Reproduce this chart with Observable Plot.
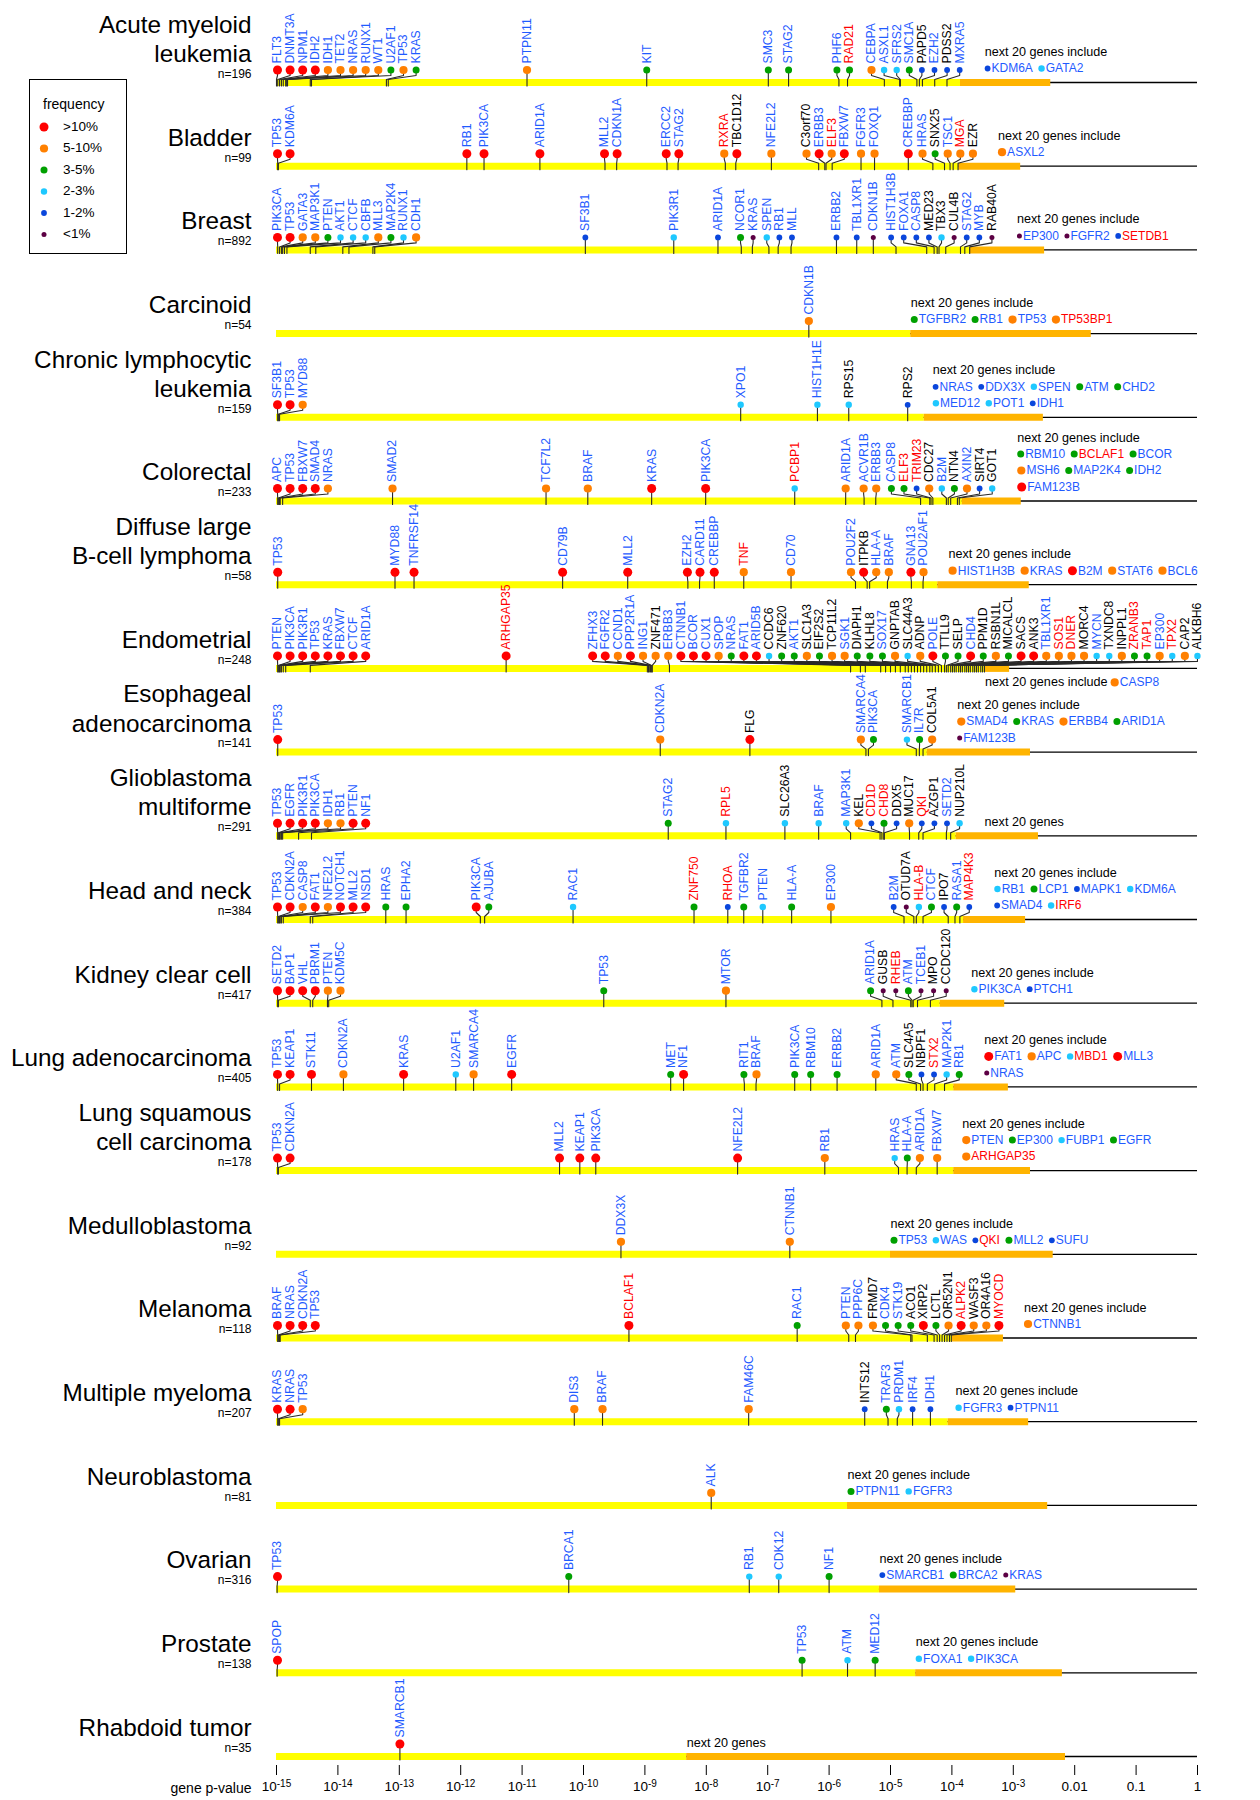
<!DOCTYPE html>
<html><head><meta charset="utf-8">
<script src="https://cdn.jsdelivr.net/npm/d3@7"></script>
<script src="https://cdn.jsdelivr.net/npm/@observablehq/plot@0.6"></script>
<style>
body{margin:0;background:#fff;font-family:'Liberation Sans',Arial,sans-serif}
#wrap{position:relative;width:1260px;height:1800px}
#legend{position:absolute;left:29px;top:79px;width:98px;height:175px;box-sizing:border-box;border:1px solid #000;background:#fff}
</style></head>
<body><div id="wrap"></div>
<script>
// ---------------- DATA ----------------
const cancerNames = ["Acute myeloid\nleukemia","Bladder","Breast","Carcinoid","Chronic lymphocytic\nleukemia","Colorectal","Diffuse large\nB-cell lymphoma","Endometrial","Esophageal\nadenocarcinoma","Glioblastoma\nmultiforme","Head and neck","Kidney clear cell","Lung adenocarcinoma","Lung squamous\ncell carcinoma","Medulloblastoma","Melanoma","Multiple myeloma","Neuroblastoma","Ovarian","Prostate","Rhabdoid tumor"];
const sampleSizes = [196,99,892,54,159,233,58,248,141,291,384,417,405,178,92,118,207,81,316,138,35];
// log10 p-value where the yellow (significant) band ends and where the orange band ends
const yellowEndLog10 = [-3.86,-3.89,-3.70,-4.67,-4.45,-3.83,-4.23,-3.46,-4.40,-3.93,-3.81,-4.19,-3.97,-3.97,-5.00,-3.99,-4.06,-5.70,-5.18,-4.59,-8.32];
const orangeEndLog10 = [-2.39,-2.88,-2.49,-1.73,-2.51,-2.87,-2.74,-3.06,-2.72,-2.59,-2.80,-3.14,-3.08,-2.72,-2.35,-3.16,-2.75,-2.44,-2.96,-2.20,-2.15];

// [cancer row, gene, log10 p-value, frequency class (1:>10% .. 6:<1%), label colour (b/r/k)]
const mutations = [
[0,"FLT3",-15.00,1,"b"],[0,"DNMT3A",-14.98,1,"b"],[0,"NPM1",-14.95,1,"b"],[0,"IDH2",-14.92,1,"b"],[0,"IDH1",-14.89,2,"b"],[0,"TET2",-14.85,2,"b"],[0,"NRAS",-14.84,2,"b"],[0,"RUNX1",-14.82,2,"b"],[0,"WT1",-14.45,2,"b"],[0,"U2AF1",-14.43,3,"b"],[0,"TP53",-13.21,2,"b"],[0,"KRAS",-13.18,3,"b"],[0,"PTPN11",-10.92,2,"b"],[0,"KIT",-8.97,3,"b"],[0,"SMC3",-6.99,3,"b"],[0,"STAG2",-6.66,3,"b"],[0,"PHF6",-5.84,3,"b"],[0,"RAD21",-5.70,3,"r"],[0,"CEBPA",-5.10,2,"b"],[0,"ASXL1",-4.85,4,"b"],[0,"SFRS2",-4.84,4,"b"],[0,"SMC1A",-4.57,3,"b"],[0,"PAPD5",-4.53,5,"k"],[0,"EZH2",-4.48,5,"b"],[0,"PDSS2",-4.28,5,"k"],[0,"MXRA5",-4.08,5,"b"],
[1,"TP53",-14.98,1,"b"],[1,"KDM6A",-14.97,1,"b"],[1,"RB1",-11.90,1,"b"],[1,"PIK3CA",-11.62,1,"b"],[1,"ARID1A",-10.71,1,"b"],[1,"MLL2",-9.65,1,"b"],[1,"CDKN1A",-9.46,1,"b"],[1,"ERCC2",-8.64,1,"b"],[1,"STAG2",-8.46,1,"b"],[1,"RXRA",-7.69,2,"r"],[1,"TBC1D12",-7.52,1,"k"],[1,"NFE2L2",-6.94,2,"b"],[1,"C3orf70",-6.17,2,"k"],[1,"ERBB3",-6.07,1,"b"],[1,"ELF3",-6.05,2,"r"],[1,"FBXW7",-5.95,1,"b"],[1,"FGFR3",-5.48,2,"b"],[1,"FOXQ1",-5.26,2,"b"],[1,"CREBBP",-4.71,1,"b"],[1,"HRAS",-4.31,2,"b"],[1,"SNX25",-4.12,3,"k"],[1,"TSC1",-4.03,2,"b"],[1,"MGA",-3.98,2,"r"],[1,"EZR",-3.90,2,"k"],
[2,"PIK3CA",-14.98,1,"b"],[2,"TP53",-14.95,1,"b"],[2,"GATA3",-14.92,2,"b"],[2,"MAP3K1",-14.90,2,"b"],[2,"PTEN",-14.87,3,"b"],[2,"AKT1",-14.83,4,"b"],[2,"CTCF",-14.45,4,"b"],[2,"CBFB",-14.36,4,"b"],[2,"MLL3",-13.92,2,"b"],[2,"MAP2K4",-13.82,3,"b"],[2,"RUNX1",-13.43,4,"b"],[2,"CDH1",-13.40,2,"b"],[2,"SF3B1",-9.97,5,"b"],[2,"PIK3R1",-8.53,4,"b"],[2,"ARID1A",-7.81,5,"b"],[2,"NCOR1",-7.43,3,"b"],[2,"KRAS",-7.25,6,"b"],[2,"SPEN",-6.98,4,"b"],[2,"RB1",-6.83,5,"b"],[2,"MLL",-6.62,5,"b"],[2,"ERBB2",-5.88,5,"b"],[2,"TBL1XR1",-5.55,5,"b"],[2,"CDKN1B",-5.28,6,"b"],[2,"HIST1H3B",-4.91,5,"b"],[2,"FOXA1",-4.41,5,"b"],[2,"CASP8",-4.29,5,"b"],[2,"MED23",-4.24,5,"k"],[2,"TBX3",-4.21,4,"k"],[2,"CUL4B",-4.10,6,"k"],[2,"STAG2",-3.86,5,"b"],[2,"MYB",-3.79,5,"b"],[2,"RAB40A",-3.71,6,"k"],
[3,"CDKN1B",-6.33,2,"b"],
[4,"SF3B1",-14.98,1,"b"],[4,"TP53",-14.97,1,"b"],[4,"MYD88",-14.95,2,"b"],[4,"XPO1",-7.44,4,"b"],[4,"HIST1H1E",-6.19,4,"b"],[4,"RPS15",-5.68,4,"k"],[4,"RPS2",-4.72,5,"k"],
[5,"APC",-14.98,1,"b"],[5,"TP53",-14.97,1,"b"],[5,"FBXW7",-14.95,1,"b"],[5,"SMAD4",-14.94,1,"b"],[5,"NRAS",-14.90,2,"b"],[5,"SMAD2",-13.11,2,"b"],[5,"TCF7L2",-10.61,2,"b"],[5,"BRAF",-9.93,2,"b"],[5,"KRAS",-8.89,1,"b"],[5,"PIK3CA",-8.01,1,"b"],[5,"PCBP1",-6.56,4,"r"],[5,"ARID1A",-5.73,2,"b"],[5,"ACVR1B",-5.43,2,"b"],[5,"ERBB3",-5.24,2,"b"],[5,"CASP8",-4.51,3,"b"],[5,"ELF3",-4.36,3,"r"],[5,"TRIM23",-4.34,5,"r"],[5,"CDC27",-4.31,2,"k"],[5,"B2M",-4.09,4,"b"],[5,"NTN4",-4.06,3,"k"],[5,"AXIN2",-4.02,2,"b"],[5,"SIRT4",-3.91,5,"k"],[5,"GOT1",-3.88,4,"k"],
[6,"TP53",-14.98,1,"b"],[6,"MYD88",-13.07,1,"b"],[6,"TNFRSF14",-12.76,1,"b"],[6,"CD79B",-10.34,1,"b"],[6,"MLL2",-9.28,1,"b"],[6,"EZH2",-8.30,1,"b"],[6,"CARD11",-8.11,1,"b"],[6,"CREBBP",-7.87,1,"b"],[6,"TNF",-7.39,2,"r"],[6,"CD70",-6.62,2,"b"],[6,"POU2F2",-5.57,2,"b"],[6,"ITPKB",-5.38,1,"k"],[6,"HLA-A",-5.34,2,"b"],[6,"BRAF",-5.05,2,"b"],[6,"GNA13",-4.66,1,"b"],[6,"POU2AF1",-4.47,2,"b"],
[7,"PTEN",-14.98,1,"b"],[7,"PIK3CA",-14.97,1,"b"],[7,"PIK3R1",-14.95,1,"b"],[7,"TP53",-14.94,1,"b"],[7,"KRAS",-14.92,1,"b"],[7,"FBXW7",-14.89,1,"b"],[7,"CTCF",-14.85,1,"b"],[7,"ARID1A",-14.45,1,"b"],[7,"ARHGAP35",-11.26,1,"r"],[7,"ZFHX3",-8.96,1,"b"],[7,"FGFR2",-8.94,1,"b"],[7,"CCND1",-8.93,2,"b"],[7,"PPP2R1A",-8.91,1,"b"],[7,"ING1",-8.89,2,"b"],[7,"ZNF471",-8.88,2,"k"],[7,"ERBB3",-8.60,2,"b"],[7,"CTNNB1",-5.65,1,"b"],[7,"BCOR",-5.49,1,"b"],[7,"CUX1",-5.41,1,"b"],[7,"SPOP",-5.16,2,"b"],[7,"NRAS",-5.08,3,"b"],[7,"FAT1",-5.00,1,"b"],[7,"ARID5B",-4.92,1,"b"],[7,"CCDC6",-4.84,4,"k"],[7,"ZNF620",-4.76,3,"k"],[7,"AKT1",-4.71,3,"b"],[7,"SLC1A3",-4.66,2,"k"],[7,"EIF2S2",-4.61,3,"k"],[7,"TCP11L2",-4.56,2,"k"],[7,"SGK1",-4.51,2,"b"],[7,"DIAPH1",-4.46,3,"k"],[7,"KLHL8",-4.41,3,"k"],[7,"SOX17",-4.36,3,"b"],[7,"GNPTAB",-4.32,2,"k"],[7,"SLC44A3",-4.27,4,"k"],[7,"ADNP",-4.22,2,"k"],[7,"POLE",-4.17,1,"b"],[7,"TTLL9",-4.12,3,"k"],[7,"SELP",-4.09,3,"k"],[7,"CHD4",-4.06,1,"b"],[7,"PPM1D",-4.02,3,"k"],[7,"RSBN1L",-3.99,2,"k"],[7,"MICALCL",-3.96,3,"k"],[7,"SACS",-3.93,1,"k"],[7,"ANK3",-3.89,1,"k"],[7,"TBL1XR1",-3.86,2,"b"],[7,"SOS1",-3.83,2,"r"],[7,"DNER",-3.79,2,"r"],[7,"MORC4",-3.76,2,"k"],[7,"MYCN",-3.73,4,"b"],[7,"TXNDC8",-3.70,4,"k"],[7,"INPPL1",-3.66,2,"k"],[7,"ZRANB3",-3.63,3,"r"],[7,"TAP1",-3.60,3,"r"],[7,"EP300",-3.57,2,"b"],[7,"TPX2",-3.53,4,"r"],[7,"CAP2",-3.50,2,"k"],[7,"ALKBH6",-3.47,4,"k"],
[8,"TP53",-14.98,1,"b"],[8,"CDKN2A",-8.75,2,"b"],[8,"FLG",-7.29,1,"k"],[8,"SMARCA4",-5.40,2,"b"],[8,"PIK3CA",-5.36,3,"b"],[8,"SMARCB1",-4.58,4,"b"],[8,"IL7R",-4.53,3,"b"],[8,"COL5A1",-4.47,2,"k"],
[9,"TP53",-14.98,1,"b"],[9,"EGFR",-14.97,1,"b"],[9,"PIK3R1",-14.95,1,"b"],[9,"PIK3CA",-14.94,1,"b"],[9,"IDH1",-14.92,2,"b"],[9,"RB1",-14.90,2,"b"],[9,"PTEN",-14.64,1,"b"],[9,"NF1",-14.43,1,"b"],[9,"STAG2",-8.62,3,"b"],[9,"RPL5",-7.68,4,"r"],[9,"SLC26A3",-6.72,4,"k"],[9,"BRAF",-6.17,4,"b"],[9,"MAP3K1",-5.65,4,"b"],[9,"KEL",-5.17,2,"k"],[9,"CD1D",-5.14,5,"r"],[9,"CHD8",-5.11,3,"r"],[9,"DDX5",-5.10,5,"k"],[9,"MUC17",-4.69,2,"k"],[9,"QKI",-4.54,5,"r"],[9,"AZGP1",-4.47,5,"k"],[9,"SETD2",-4.09,5,"b"],[9,"NUP210L",-4.02,4,"k"],
[10,"TP53",-14.98,1,"b"],[10,"CDKN2A",-14.97,1,"b"],[10,"CASP8",-14.95,2,"b"],[10,"FAT1",-14.94,1,"b"],[10,"NFE2L2",-14.92,2,"b"],[10,"NOTCH1",-14.89,1,"b"],[10,"MLL2",-14.45,1,"b"],[10,"NSD1",-14.41,1,"b"],[10,"HRAS",-13.22,3,"b"],[10,"EPHA2",-12.89,3,"b"],[10,"PIK3CA",-11.68,1,"b"],[10,"AJUBA",-11.61,3,"b"],[10,"RAC1",-10.17,4,"b"],[10,"ZNF750",-8.20,3,"r"],[10,"RHOA",-7.65,5,"r"],[10,"TGFBR2",-7.39,3,"b"],[10,"PTEN",-7.08,4,"b"],[10,"HLA-A",-6.61,3,"b"],[10,"EP300",-5.97,2,"b"],[10,"B2M",-4.78,5,"b"],[10,"OTUD7A",-4.62,6,"k"],[10,"HLA-B",-4.58,4,"r"],[10,"CTCF",-4.47,3,"b"],[10,"IPO7",-4.06,5,"k"],[10,"RASA1",-3.95,3,"b"],[10,"MAP4K3",-3.87,5,"r"],
[11,"SETD2",-14.98,1,"b"],[11,"BAP1",-14.97,1,"b"],[11,"VHL",-14.45,1,"b"],[11,"PBRM1",-14.41,1,"b"],[11,"PTEN",-14.17,2,"b"],[11,"KDM5C",-14.15,2,"b"],[11,"TP53",-9.67,3,"b"],[11,"MTOR",-7.68,2,"b"],[11,"ARID1A",-5.14,3,"b"],[11,"GUSB",-4.96,6,"k"],[11,"RHEB",-4.67,6,"r"],[11,"ATM",-4.65,3,"b"],[11,"TCEB1",-4.63,6,"b"],[11,"MPO",-4.56,6,"k"],[11,"CCDC120",-4.35,6,"k"],
[12,"TP53",-14.98,1,"b"],[12,"KEAP1",-14.95,1,"b"],[12,"STK11",-14.43,1,"b"],[12,"CDKN2A",-13.91,2,"b"],[12,"KRAS",-12.93,1,"b"],[12,"U2AF1",-12.08,4,"b"],[12,"SMARCA4",-11.79,2,"b"],[12,"EGFR",-11.17,1,"b"],[12,"MET",-8.58,3,"b"],[12,"NF1",-8.37,1,"b"],[12,"RIT1",-7.38,3,"b"],[12,"BRAF",-7.19,2,"b"],[12,"PIK3CA",-6.56,3,"b"],[12,"RBM10",-6.30,3,"b"],[12,"ERBB2",-5.87,3,"b"],[12,"ARID1A",-5.24,2,"b"],[12,"ATM",-4.58,2,"b"],[12,"SLC4A5",-4.51,3,"k"],[12,"NBPF1",-4.47,5,"k"],[12,"STX2",-4.40,5,"r"],[12,"MAP2K1",-4.28,4,"b"],[12,"RB1",-4.12,3,"b"],
[13,"TP53",-14.98,1,"b"],[13,"CDKN2A",-14.97,1,"b"],[13,"MLL2",-10.39,1,"b"],[13,"KEAP1",-10.06,1,"b"],[13,"PIK3CA",-9.80,1,"b"],[13,"NFE2L2",-7.49,1,"b"],[13,"RB1",-6.07,2,"b"],[13,"HRAS",-4.87,4,"b"],[13,"HLA-A",-4.73,3,"b"],[13,"ARID1A",-4.58,2,"b"],[13,"FBXW7",-4.24,2,"b"],
[14,"DDX3X",-9.39,2,"b"],[14,"CTNNB1",-6.64,2,"b"],
[15,"BRAF",-14.98,1,"b"],[15,"NRAS",-14.97,1,"b"],[15,"CDKN2A",-14.95,1,"b"],[15,"TP53",-14.94,1,"b"],[15,"BCLAF1",-9.26,1,"r"],[15,"RAC1",-6.52,3,"b"],[15,"PTEN",-5.68,2,"b"],[15,"PPP6C",-5.57,2,"b"],[15,"FRMD7",-4.67,2,"k"],[15,"CDK4",-4.65,3,"b"],[15,"STK19",-4.40,3,"b"],[15,"ACO1",-4.29,3,"k"],[15,"XIRP2",-4.24,1,"k"],[15,"LCTL",-4.20,3,"k"],[15,"OR52N1",-4.16,2,"k"],[15,"ALPK2",-4.12,1,"r"],[15,"WASF3",-4.08,2,"k"],[15,"OR4A16",-4.04,2,"k"],[15,"MYOCD",-4.01,1,"r"],
[16,"KRAS",-14.98,1,"b"],[16,"NRAS",-14.97,1,"b"],[16,"TP53",-14.95,2,"b"],[16,"DIS3",-10.15,2,"b"],[16,"BRAF",-9.69,2,"b"],[16,"FAM46C",-7.31,2,"b"],[16,"INTS12",-5.42,5,"k"],[16,"TRAF3",-5.04,3,"b"],[16,"PRDM1",-4.89,4,"b"],[16,"IRF4",-4.64,5,"b"],[16,"IDH1",-4.35,5,"b"],
[17,"ALK",-7.92,2,"b"],
[18,"TP53",-14.99,1,"b"],[18,"BRCA1",-10.24,3,"b"],[18,"RB1",-7.30,4,"b"],[18,"CDK12",-6.82,4,"b"],[18,"NF1",-6.00,3,"b"],
[19,"SPOP",-14.99,1,"b"],[19,"TP53",-6.44,3,"b"],[19,"ATM",-5.70,4,"b"],[19,"MED12",-5.25,3,"b"],
[20,"SMARCB1",-12.99,1,"b"]
];

// "next 20 genes include" lists: [cancer row, gene, frequency class, label colour, text line]
const next20 = [
[0,"KDM6A",5,"b",0],[0,"GATA2",4,"b",0],
[1,"ASXL2",2,"b",0],
[2,"EP300",6,"b",0],[2,"FGFR2",6,"b",0],[2,"SETDB1",5,"r",0],
[3,"TGFBR2",3,"b",0],[3,"RB1",3,"b",0],[3,"TP53",2,"b",0],[3,"TP53BP1",2,"r",0],
[4,"NRAS",5,"b",0],[4,"DDX3X",5,"b",0],[4,"SPEN",4,"b",0],[4,"ATM",3,"b",0],[4,"CHD2",3,"b",0],[4,"MED12",4,"b",1],[4,"POT1",4,"b",1],[4,"IDH1",5,"b",1],
[5,"RBM10",3,"b",0],[5,"BCLAF1",3,"r",0],[5,"BCOR",3,"b",0],[5,"MSH6",2,"b",1],[5,"MAP2K4",3,"b",1],[5,"IDH2",3,"b",1],[5,"FAM123B",1,"b",2],
[6,"HIST1H3B",2,"b",0],[6,"KRAS",2,"b",0],[6,"B2M",1,"b",0],[6,"STAT6",2,"b",0],[6,"BCL6",2,"b",0],
[7,"CASP8",2,"b",0],
[8,"SMAD4",2,"b",0],[8,"KRAS",3,"b",0],[8,"ERBB4",2,"b",0],[8,"ARID1A",3,"b",0],[8,"FAM123B",6,"b",1],
[10,"RB1",4,"b",0],[10,"LCP1",3,"b",0],[10,"MAPK1",5,"b",0],[10,"KDM6A",4,"b",0],[10,"SMAD4",5,"b",1],[10,"IRF6",4,"r",1],
[11,"PIK3CA",4,"b",0],[11,"PTCH1",5,"b",0],
[12,"FAT1",1,"b",0],[12,"APC",2,"b",0],[12,"MBD1",4,"r",0],[12,"MLL3",1,"b",0],[12,"NRAS",6,"b",1],
[13,"PTEN",2,"b",0],[13,"EP300",3,"b",0],[13,"FUBP1",4,"b",0],[13,"EGFR",3,"b",0],[13,"ARHGAP35",2,"r",1],
[14,"TP53",3,"b",0],[14,"WAS",4,"b",0],[14,"QKI",5,"r",0],[14,"MLL2",3,"b",0],[14,"SUFU",5,"b",0],
[15,"CTNNB1",2,"b",0],
[16,"FGFR3",4,"b",0],[16,"PTPN11",5,"b",0],
[17,"PTPN11",3,"b",0],[17,"FGFR3",4,"b",0],
[18,"SMARCB1",5,"b",0],[18,"BRCA2",3,"b",0],[18,"KRAS",6,"b",0],
[19,"FOXA1",4,"b",0],[19,"PIK3CA",4,"b",0]
];

const tickValues = [1e-15,1e-14,1e-13,1e-12,1e-11,1e-10,1e-9,1e-8,1e-7,1e-6,1e-5,1e-4,1e-3,0.01,0.1,1];
const tickLabels = ["10^-15","10^-14","10^-13","10^-12","10^-11","10^-10","10^-9","10^-8","10^-7","10^-6","10^-5","10^-4","10^-3","0.01","0.1","1"];
const legendLabels = [">10%","5-10%","3-5%","2-3%","1-2%","<1%"];

// ---------------- STYLE ----------------
const FREQ_COLOR = {1:"#ff0000",2:"#ff8000",3:"#00a000",4:"#1ec8ff",5:"#0a46dc",6:"#5c0044"};
const FREQ_R = {1:4.5,2:4.1,3:3.5,4:3.2,5:2.9,6:2.5};
const LABEL_COLOR = {b:"#1f5bff", r:"#ff0000", k:"#000000"};
const FONT = "'Liberation Sans', Arial, sans-serif";
const X_SCALE = {type:"log", domain:[1e-15,1], range:[276,1197]};
const Y_SCALE = {type:"linear", domain:[0,20], range:[82,1756]};
const GAP = 12.6, XMIN = 277, XMAX = 1197;

const xs = Plot.scale({x: X_SCALE});
const ys = Plot.scale({y: Y_SCALE});
const xAt = p => xs.invert(p);
const yAt = (i, off) => ys.invert(ys.apply(i) + off);

const ctx = document.createElement("canvas").getContext("2d");
const measure = (s, size) => { ctx.font = `${size}px 'Liberation Sans'`; return ctx.measureText(s).width; };

// label spreading: merge overlapping clusters, centre on mean
function spread(px) {
  let cl = px.map(v => ({n:1, sum:v}));
  const place = c => { let l = c.sum/c.n - (c.n-1)*GAP/2; l = Math.max(XMIN, Math.min(l, XMAX-(c.n-1)*GAP)); c.l = l; c.r = l + (c.n-1)*GAP; };
  cl.forEach(place);
  let merged = true;
  while (merged) {
    merged = false;
    for (let i = 0; i < cl.length-1; i++) {
      if (cl[i].r + GAP > cl[i+1].l + 1e-6) {
        const c = {n: cl[i].n + cl[i+1].n, sum: cl[i].sum + cl[i+1].sum};
        place(c); cl.splice(i, 2, c); merged = true; break;
      }
    }
  }
  const out = [];
  cl.forEach(c => { for (let k = 0; k < c.n; k++) out.push(c.l + k*GAP); });
  return out;
}

const rows = cancerNames.map((name, i) => ({i, name, n: sampleSizes[i], y0: 10 ** yellowEndLog10[i], y1: 10 ** orangeEndLog10[i]}));

const placed = [], leaders = [];
rows.forEach(r => {
  const g = mutations.filter(m => m[0] === r.i).map(m => ({row: m[0], gene: m[1], p: 10 ** m[2], f: m[3], c: m[4]}))
    .sort((a, b) => a.p - b.p);
  const tx = g.map(d => xs.apply(d.p));
  const lx = spread(tx);
  g.forEach((d, k) => {
    d.tx = tx[k]; d.lx = lx[k]; placed.push(d);
    const id = r.i + "-" + k;
    [[d.lx,-12.5],[d.lx,-7],[d.tx,-3],[d.tx,3.5]].forEach(([x, o]) => leaders.push({id, x: xAt(x), y: yAt(r.i, o)}));
  });
  r.lastDot = lx.length ? lx[lx.length-1] : -Infinity;
});

const heads = [], listItems = [];
rows.forEach(r => {
  const items = next20.filter(n => n[0] === r.i).map(n => ({gene: n[1], f: n[2], c: n[3], line: n[4]}));
  const header = items.length ? "next 20 genes include" : "next 20 genes";
  const hW = measure(header, 12.6);
  const yEndPx = xs.apply(r.y0);
  let bx = Math.max(yEndPx, r.lastDot + 25);
  if (bx + hW > 1205) {
    bx = yEndPx;
    heads.push({row: r.i, x: bx, off: 14, text: header});
    let cur = bx + hW + 3;
    items.forEach(it => {
      const rr = FREQ_R[it.f];
      listItems.push({...it, row: r.i, dotX: cur + rr, textX: cur + 2*rr + 1, off: 14});
      cur = cur + 2*rr + 1 + measure(it.gene, 12) + 5.5;
    });
  } else {
    const nLines = items.length ? d3.max(items, d => d.line) + 1 : 0;
    heads.push({row: r.i, x: bx, off: -14 - 16.5*nLines, text: header});
    for (let L = 0; L < nLines; L++) {
      let cur = bx;
      items.filter(d => d.line === L).forEach(it => {
        const rr = FREQ_R[it.f];
        listItems.push({...it, row: r.i, dotX: cur + rr, textX: cur + 2*rr + 1, off: -14 - 16.5*(nLines-1-L)});
        cur = cur + 2*rr + 1 + measure(it.gene, 12) + 5.5;
      });
    }
  }
});

const tickMap = new Map(tickValues.map((v, k) => [v, tickLabels[k]]));

const svg = Plot.plot({
  width: 1260, height: 1800,
  marginLeft: 276, marginRight: 63, marginTop: 0, marginBottom: 35,
  x: {...X_SCALE, axis: null},
  y: {...Y_SCALE, axis: null},
  r: {type: "identity"},
  color: {type: "identity"},
  style: {fontFamily: FONT, fontSize: "12px", background: "white", overflow: "visible"},
  marks: [
    Plot.ruleY(rows, {y: "i", x1: 1e-15, x2: 1, stroke: "#000", strokeWidth: 1.3}),
    Plot.ruleY(rows, {y: "i", x1: 1e-15, x2: "y0", stroke: "#ffff00", strokeWidth: 7}),
    Plot.ruleY(rows, {y: "i", x1: "y0", x2: "y1", stroke: "#ffb400", strokeWidth: 7}),
    Plot.line(leaders, {x: "x", y: "y", z: "id", stroke: "#2a2a2a", strokeWidth: 1.1}),
    Plot.dot(placed, {x: d => xAt(d.lx), y: d => yAt(d.row, -12.5), r: d => FREQ_R[d.f], fill: d => FREQ_COLOR[d.f], stroke: "none"}),
    Plot.text(placed, {x: d => xAt(d.lx), y: d => yAt(d.row, -19), text: "gene", rotate: -90, textAnchor: "start", lineAnchor: "middle", fill: d => LABEL_COLOR[d.c], fontSize: 12.2}),
    Plot.text(rows, {x: 1e-15, y: d => yAt(d.i, d.name.includes("\n") ? -44.5 : -30), text: "name", textAnchor: "end", lineAnchor: "middle", dx: -25, fontSize: 24.3, lineHeight: 1.2, fill: "#000"}),
    Plot.text(rows, {x: 1e-15, y: d => yAt(d.i, -8.5), text: d => "n=" + d.n, textAnchor: "end", lineAnchor: "middle", dx: -25, fontSize: 12, fill: "#000"}),
    Plot.text(heads, {x: d => xAt(d.x), y: d => yAt(d.row, d.off), text: "text", textAnchor: "start", lineAnchor: "middle", fontSize: 12.6, fill: "#000"}),
    Plot.dot(listItems, {x: d => xAt(d.dotX), y: d => yAt(d.row, d.off), r: d => FREQ_R[d.f], fill: d => FREQ_COLOR[d.f], stroke: "none"}),
    Plot.text(listItems, {x: d => xAt(d.textX), y: d => yAt(d.row, d.off), text: "gene", textAnchor: "start", lineAnchor: "middle", fontSize: 12, fill: d => LABEL_COLOR[d.c]}),
    Plot.text(["gene p-value"], {x: 1e-15, y: 20, dx: -25, dy: 32, text: d => d, textAnchor: "end", lineAnchor: "middle", fontSize: 14, fill: "#000"}),
    Plot.axisX({ticks: tickValues, tickFormat: d => tickMap.get(d), tickSize: 10, tickPadding: 6, fontSize: 13.5, label: null, anchor: "bottom"})
  ]
});

// superscript exponents on tick labels
const NS = "http://www.w3.org/2000/svg";
svg.querySelectorAll('g[aria-label="x-axis tick label"] text').forEach(t => {
  const parts = t.textContent.split("^");
  if (parts.length === 2) {
    t.textContent = "";
    const a = document.createElementNS(NS, "tspan"); a.textContent = parts[0];
    const b = document.createElementNS(NS, "tspan"); b.textContent = parts[1];
    b.setAttribute("dy", "-0.45em"); b.setAttribute("font-size", "10");
    t.append(a, b);
  }
});

const wrap = document.getElementById("wrap");
wrap.appendChild(svg);

// legend
const leg = document.createElement("div");
leg.id = "legend";
const lsvg = d3.create("svg").attr("width", 96).attr("height", 173).style("font-family", FONT);
lsvg.append("text").attr("x", 13).attr("y", 25).attr("dominant-baseline", "middle").attr("font-size", 14).text("frequency");
legendLabels.forEach((lab, k) => {
  const f = k + 1, yy = 47 + k * 21.5;
  lsvg.append("circle").attr("cx", 14).attr("cy", yy).attr("r", FREQ_R[f]).attr("fill", FREQ_COLOR[f]);
  lsvg.append("text").attr("x", 33).attr("y", yy).attr("dominant-baseline", "middle").attr("font-size", 13.5).text(lab);
});
leg.appendChild(lsvg.node());
wrap.appendChild(leg);
</script>
</body></html>
